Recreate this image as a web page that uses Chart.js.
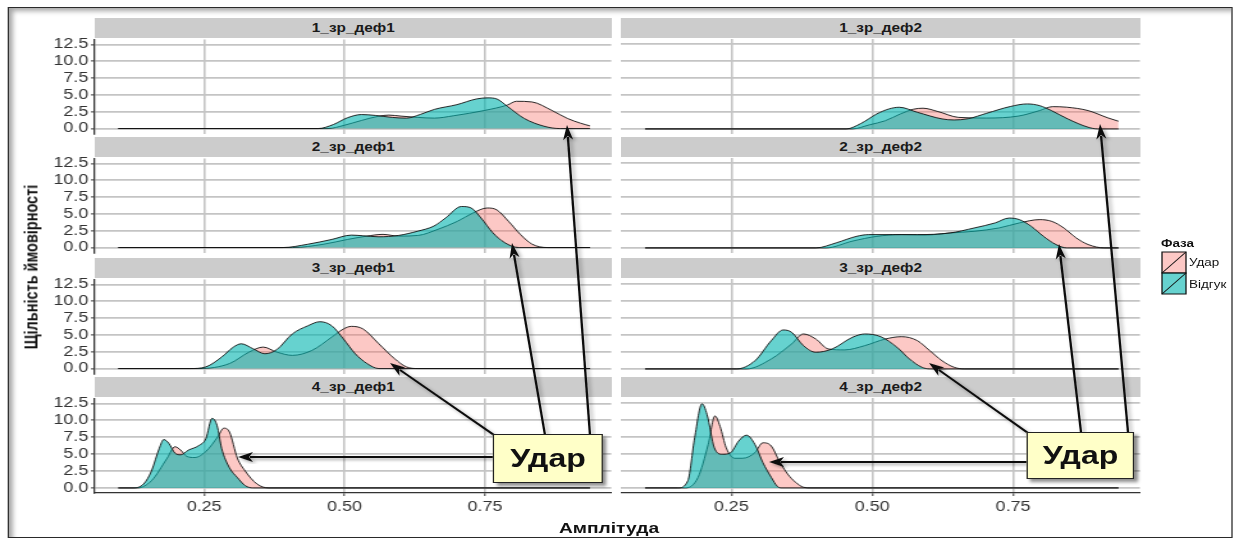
<!DOCTYPE html>
<html>
<head>
<meta charset="utf-8">
<script src="https://cdn.jsdelivr.net/npm/chart.js@4.4.1/dist/chart.umd.min.js"></script>
<style>
  html, body { margin: 0; padding: 0; background: #fff; }
  body { width: 1237px; height: 542px; overflow: hidden; font-family: 'Liberation Sans', Arial, sans-serif; }
  #page { position: absolute; left: 0; top: 0; width: 966.4px; height: 542px; transform: scaleX(1.28); transform-origin: 0 0; }
  .frame { position: absolute; box-sizing: border-box; border: 1.5px solid #2a2a2a; box-shadow: inset 4px 4px 5px -1px rgba(0,0,0,0.35); }
  .strip { position: absolute; background: #cccccc; color: #1a1a1a; font-weight: bold; font-size: 12px; text-align: center; line-height: 20px; }
  .panel { position: absolute; }
  .label { position: absolute; white-space: nowrap; color: #111; }
  .callout { position: absolute; box-sizing: border-box; background: #ffffc8; border: 1.5px solid #222; box-shadow: 3px 3px 3px rgba(0,0,0,0.45); font-weight: bold; font-size: 25px; color: #111; text-align: center; }
  svg { position: absolute; left: 0; top: 0; overflow: visible; }
</style>
</head>
<body>
<div id="page"></div>
<script>
// facet names, phases and ticks
const panelNames = ['1_зр_деф1', '1_зр_деф2', '2_зр_деф1', '2_зр_деф2',
                    '3_зр_деф1', '3_зр_деф2', '4_зр_деф1', '4_зр_деф2'];
const phases = ['Удар', 'Відгук'];
const yTicks = [0, 2.5, 5, 7.5, 10, 12.5];
const xTicks = [0.25, 0.5, 0.75];

// density curves, [amplitude, density]
const udar1_def1 = [[0.097,0],[0.47,0],[0.5,0.5],[0.53,1.2],[0.561,1.84],[0.579,2.0],[0.6,1.85],[0.631,1.65],[0.66,1.55],[0.694,1.9],[0.75,2.7],[0.79,3.5],[0.806,4.05],[0.834,3.95],[0.869,2.7],[0.897,1.5],[0.92,0.8],[0.937,0.4]];
const vidguk1_def1 = [[0.097,0],[0.453,0],[0.48,0.6],[0.505,1.6],[0.53,2.08],[0.555,1.95],[0.585,1.65],[0.61,1.55],[0.635,2.1],[0.66,2.85],[0.7,3.55],[0.735,4.4],[0.755,4.56],[0.771,4.4],[0.79,3.3],[0.82,1.5],[0.855,0.35],[0.883,0],[0.937,0]];

const udar1_def2 = [[0.097,0],[0.465,0],[0.495,0.6],[0.523,1.2],[0.55,2.2],[0.573,2.9],[0.59,3.05],[0.617,2.55],[0.653,1.7],[0.703,1.6],[0.76,1.9],[0.797,2.7],[0.82,3.28],[0.845,3.2],[0.883,2.7],[0.919,1.6],[0.937,1.13]];
const vidguk1_def2 = [[0.097,0],[0.454,0],[0.48,0.8],[0.508,2.2],[0.53,2.95],[0.548,3.19],[0.58,2.45],[0.624,1.47],[0.645,1.32],[0.67,1.5],[0.703,2.3],[0.745,3.3],[0.775,3.68],[0.797,3.43],[0.818,2.7],[0.847,1.47],[0.883,0.25],[0.9,0],[0.937,0]];

const udar2_def1 = [[0.097,0],[0.407,0],[0.463,0.5],[0.505,1.2],[0.54,1.7],[0.568,1.96],[0.596,1.7],[0.631,1.8],[0.666,2.7],[0.701,3.9],[0.729,5.15],[0.754,5.88],[0.771,5.6],[0.792,3.9],[0.813,1.96],[0.834,0.5],[0.862,0],[0.937,0]];
const vidguk2_def1 = [[0.097,0],[0.39,0],[0.435,0.5],[0.477,1.2],[0.512,1.85],[0.533,1.75],[0.561,1.6],[0.596,1.8],[0.631,2.45],[0.659,3.19],[0.68,4.4],[0.708,6.1],[0.725,5.9],[0.743,4.4],[0.764,2.2],[0.785,0.74],[0.81,0],[0.937,0]];

const udar2_def2 = [[0.097,0],[0.418,0],[0.465,1.0],[0.508,1.7],[0.552,1.96],[0.595,1.9],[0.638,2.2],[0.681,2.45],[0.725,2.94],[0.761,3.68],[0.797,4.17],[0.819,3.9],[0.84,2.94],[0.862,1.47],[0.883,0.5],[0.912,0],[0.937,0]];
const vidguk2_def2 = [[0.097,0],[0.4,0],[0.436,0.74],[0.472,1.7],[0.494,1.96],[0.537,1.96],[0.58,1.96],[0.638,2.2],[0.681,2.94],[0.718,3.68],[0.743,4.4],[0.761,4.17],[0.782,3.19],[0.804,1.7],[0.826,0.5],[0.845,0],[0.937,0]];

const udar3_def1 = [[0.097,0],[0.24,0],[0.295,0.74],[0.33,2.45],[0.355,3.19],[0.379,2.45],[0.407,1.96],[0.442,2.7],[0.477,4.66],[0.498,5.88],[0.512,6.27],[0.533,5.88],[0.561,3.68],[0.589,1.47],[0.61,0.25],[0.631,0],[0.937,0]];
const vidguk3_def1 = [[0.097,0],[0.225,0],[0.253,0.25],[0.281,1.7],[0.302,3.19],[0.316,3.68],[0.337,2.94],[0.358,2.2],[0.379,2.8],[0.407,5.15],[0.435,6.37],[0.456,6.96],[0.477,6.37],[0.498,4.4],[0.519,2.2],[0.54,0.74],[0.561,0],[0.937,0]];

const udar3_def2 = [[0.097,0],[0.277,0],[0.321,1.47],[0.357,3.68],[0.378,5.15],[0.4,4.4],[0.422,2.94],[0.451,2.8],[0.487,3.43],[0.523,4.4],[0.552,4.75],[0.58,4.17],[0.602,2.7],[0.624,1.2],[0.645,0.25],[0.663,0],[0.937,0]];
const vidguk3_def2 = [[0.097,0],[0.259,0],[0.292,1.2],[0.321,4.17],[0.342,5.74],[0.357,5.4],[0.378,3.43],[0.4,2.45],[0.429,2.94],[0.465,4.66],[0.487,5.15],[0.515,4.75],[0.544,3.19],[0.566,1.47],[0.588,0.25],[0.602,0],[0.937,0]];

const udar4_def1 = [[0.097,0],[0.131,0],[0.156,1.06],[0.184,4.4],[0.198,6.1],[0.208,5.6],[0.219,4.66],[0.233,4.5],[0.253,5.4],[0.274,7.55],[0.285,8.85],[0.295,8.27],[0.309,4.42],[0.323,2.5],[0.344,0.58],[0.365,0],[0.937,0]];
const vidguk4_def1 = [[0.097,0],[0.121,0],[0.142,0.58],[0.156,2.5],[0.17,5.87],[0.178,7.16],[0.187,6.6],[0.198,5.14],[0.208,4.9],[0.222,5.6],[0.24,6.25],[0.253,7.3],[0.264,10.3],[0.273,9.2],[0.281,5.87],[0.295,2.98],[0.309,1.54],[0.323,0.34],[0.337,0],[0.937,0]];

const udar4_def2 = [[0.097,0],[0.169,0],[0.191,1.55],[0.209,6.4],[0.221,10.6],[0.23,9.08],[0.241,5.9],[0.256,4.37],[0.27,4.37],[0.292,5.2],[0.306,6.65],[0.321,6.17],[0.335,3.98],[0.35,2.04],[0.364,0.83],[0.378,0.1],[0.39,0],[0.937,0]];
const vidguk4_def2 = [[0.097,0],[0.155,0],[0.173,1.07],[0.185,7.4],[0.198,12.4],[0.207,10.8],[0.22,5.9],[0.234,4.95],[0.249,5.2],[0.263,6.9],[0.277,7.77],[0.292,6.4],[0.306,3.74],[0.321,1.55],[0.332,0.2],[0.34,0],[0.937,0]];

const udarSeries = [udar1_def1, udar1_def2, udar2_def1, udar2_def2, udar3_def1, udar3_def2, udar4_def1, udar4_def2];
const vidgukSeries = [vidguk1_def1, vidguk1_def2, vidguk2_def1, vidguk2_def2, vidguk3_def1, vidguk3_def2, vidguk4_def1, vidguk4_def2];

const pinkFill = 'rgba(248,118,109,0.4)';
const tealFill = 'rgba(0,180,175,0.6)';

// the picture is stretched sideways, so lay out narrower and scale the page
const S = 1.28;
const X = v => v / S;

const page = document.getElementById('page');
Chart.defaults.font.family = "'Liberation Sans', Arial, sans-serif";

function addDiv(cls, text, css) {
  const d = document.createElement('div');
  d.className = cls;
  if (text) d.textContent = text;
  Object.assign(d.style, css);
  page.appendChild(d);
  return d;
}

addDiv('frame', '', { left: X(8) + 'px', top: '7px', width: X(1224) + 'px', height: '531px' });

const rowTops = [39, 158, 279, 398];
const plotH = 95;
const colLeft = [74, 485];
const colWidth = [404, 406];
const yAxisW = 40;

const toXY = arr => arr.map(p => ({ x: p[0], y: p[1] }));

panelNames.forEach((name, i) => {
  const col = i % 2, row = Math.floor(i / 2);
  const last = row === 3;
  const top = rowTops[row];

  addDiv('strip', name, { left: colLeft[col] + 'px', top: (top - 21) + 'px', width: colWidth[col] + 'px', height: '20px' });

  const left = col === 0 ? colLeft[col] - yAxisW : colLeft[col];
  const width = col === 0 ? colWidth[col] + yAxisW : colWidth[col];
  const height = plotH + 10 + (last ? 30 : 10);
  const box = addDiv('panel', '', { left: left + 'px', top: (top - 10) + 'px', width: width + 'px', height: height + 'px' });
  const canvas = document.createElement('canvas');
  box.appendChild(canvas);

  new Chart(canvas.getContext('2d'), {
    type: 'line',
    data: {
      datasets: [{
        label: phases[0],
        data: toXY(udarSeries[i]),
        fill: 'origin',
        backgroundColor: pinkFill,
        order: 1
      }, {
        label: phases[1],
        data: toXY(vidgukSeries[i]),
        fill: 'origin',
        backgroundColor: tealFill,
        order: 0
      }]
    },
    options: {
      responsive: true,
      maintainAspectRatio: false,
      animation: false,
      layout: { padding: { top: 10, bottom: last ? 0 : 10, left: 0, right: 0 } },
      plugins: { legend: { display: false }, tooltip: { enabled: false } },
      elements: {
        point: { radius: 0 },
        line: { borderWidth: 0.9, borderColor: '#111', cubicInterpolationMode: 'monotone' }
      },
      scales: {
        x: {
          type: 'linear',
          min: 0.055,
          max: 0.975,
          afterBuildTicks: s => { s.ticks = xTicks.map(v => ({ value: v })); },
          afterFit: s => { s.height = last ? 30 : 0; },
          grid: { color: '#c4c4c4', lineWidth: 1.6, drawTicks: last, tickLength: 3, tickColor: '#333', tickWidth: 1 },
          border: { display: last, color: '#333', width: 1.3 },
          ticks: { display: last, autoSkip: false, color: '#333', font: { size: 14 }, padding: 3, maxRotation: 0,
                   callback: v => v.toFixed(2) }
        },
        y: {
          min: -0.75,
          max: 13.25,
          afterBuildTicks: s => { s.ticks = yTicks.map(v => ({ value: v })); },
          afterFit: s => { s.width = col === 0 ? yAxisW : 0; },
          grid: { color: '#c4c4c4', lineWidth: 1.8, drawTicks: col === 0, tickLength: 3, tickColor: '#333', tickWidth: 1 },
          border: { display: col === 0, color: '#333', width: 1.3 },
          ticks: { display: col === 0, autoSkip: false, color: '#333', font: { size: 14 }, padding: 2,
                   callback: v => v.toFixed(1) }
        }
      }
    }
  });
});

// axis titles
addDiv('label', 'Щільність ймовірності', {
  left: X(31) + 'px', top: '267px', fontWeight: 'bold', fontSize: '14.5px',
  transform: 'translate(-50%, -50%) rotate(-90deg)'
});
addDiv('label', 'Амплітуда', {
  left: X(609) + 'px', top: '527px', fontWeight: 'bold', fontSize: '15px',
  transform: 'translate(-50%, -50%)'
});

// legend
addDiv('label', 'Фаза', { left: X(1161) + 'px', top: '237px', fontWeight: 'bold', fontSize: '10.5px' });
addDiv('label', phases[0], { left: X(1189) + 'px', top: '256px', fontSize: '10.5px' });
addDiv('label', phases[1], { left: X(1189) + 'px', top: '278px', fontSize: '10.5px' });

const NS = 'http://www.w3.org/2000/svg';
const svg = document.createElementNS(NS, 'svg');
svg.setAttribute('width', '966.4');
svg.setAttribute('height', '542');
svg.innerHTML = '<defs><filter id="sh" x="-20%" y="-20%" width="140%" height="140%">' +
  '<feDropShadow dx="2" dy="2" stdDeviation="1.5" flood-color="#000" flood-opacity="0.35"/></filter></defs>';
page.appendChild(svg);

function svgEl(tag, attrs) {
  const el = document.createElementNS(NS, tag);
  for (const k in attrs) el.setAttribute(k, attrs[k]);
  svg.appendChild(el);
  return el;
}

[[pinkFill, 252], [tealFill, 273]].forEach(([fill, y]) => {
  svgEl('rect', { x: X(1162), y: y, width: X(24), height: 21, fill: fill, stroke: '#111', 'stroke-width': 1 });
  svgEl('line', { x1: X(1162), y1: y + 21, x2: X(1186), y2: y, stroke: '#111', 'stroke-width': 0.8 });
});

// arrows from the callouts, [from x, from y, tip x, tip y] in picture pixels
const arrows = [
  [494, 457, 238, 457], [494, 435, 390, 363], [545, 435, 512, 243], [590, 435, 567, 125],
  [1028, 462, 769, 462], [1028, 433, 929, 363], [1081, 432, 1059, 244], [1128, 432, 1100, 124]
];
arrows.forEach(([x1, y1, x2, y2]) => {
  const len = Math.hypot(x2 - x1, y2 - y1);
  const ux = (x2 - x1) / len, uy = (y2 - y1) / len;
  const hl = 15, hw = 5;
  const bx = x2 - ux * hl, by = y2 - uy * hl;
  const g = svgEl('g', { filter: 'url(#sh)' });
  const line = document.createElementNS(NS, 'line');
  line.setAttribute('x1', X(x1)); line.setAttribute('y1', y1);
  line.setAttribute('x2', X(bx + ux * 3)); line.setAttribute('y2', by + uy * 3);
  line.setAttribute('stroke', '#111'); line.setAttribute('stroke-width', 1.8);
  g.appendChild(line);
  const head = document.createElementNS(NS, 'polygon');
  head.setAttribute('points', [
    [X(x2), y2],
    [X(bx - uy * hw), by + ux * hw],
    [X(bx + ux * 4), by + uy * 4],
    [X(bx + uy * hw), by - ux * hw]
  ].map(p => p.join(',')).join(' '));
  head.setAttribute('fill', '#111');
  g.appendChild(head);
});

// callout boxes
addDiv('callout', 'Удар', { left: X(493) + 'px', top: '434px', width: X(110) + 'px', height: '49px', lineHeight: '46px' });
addDiv('callout', 'Удар', { left: X(1027) + 'px', top: '432px', width: X(107) + 'px', height: '47px', lineHeight: '44px' });
</script>
</body>
</html>
